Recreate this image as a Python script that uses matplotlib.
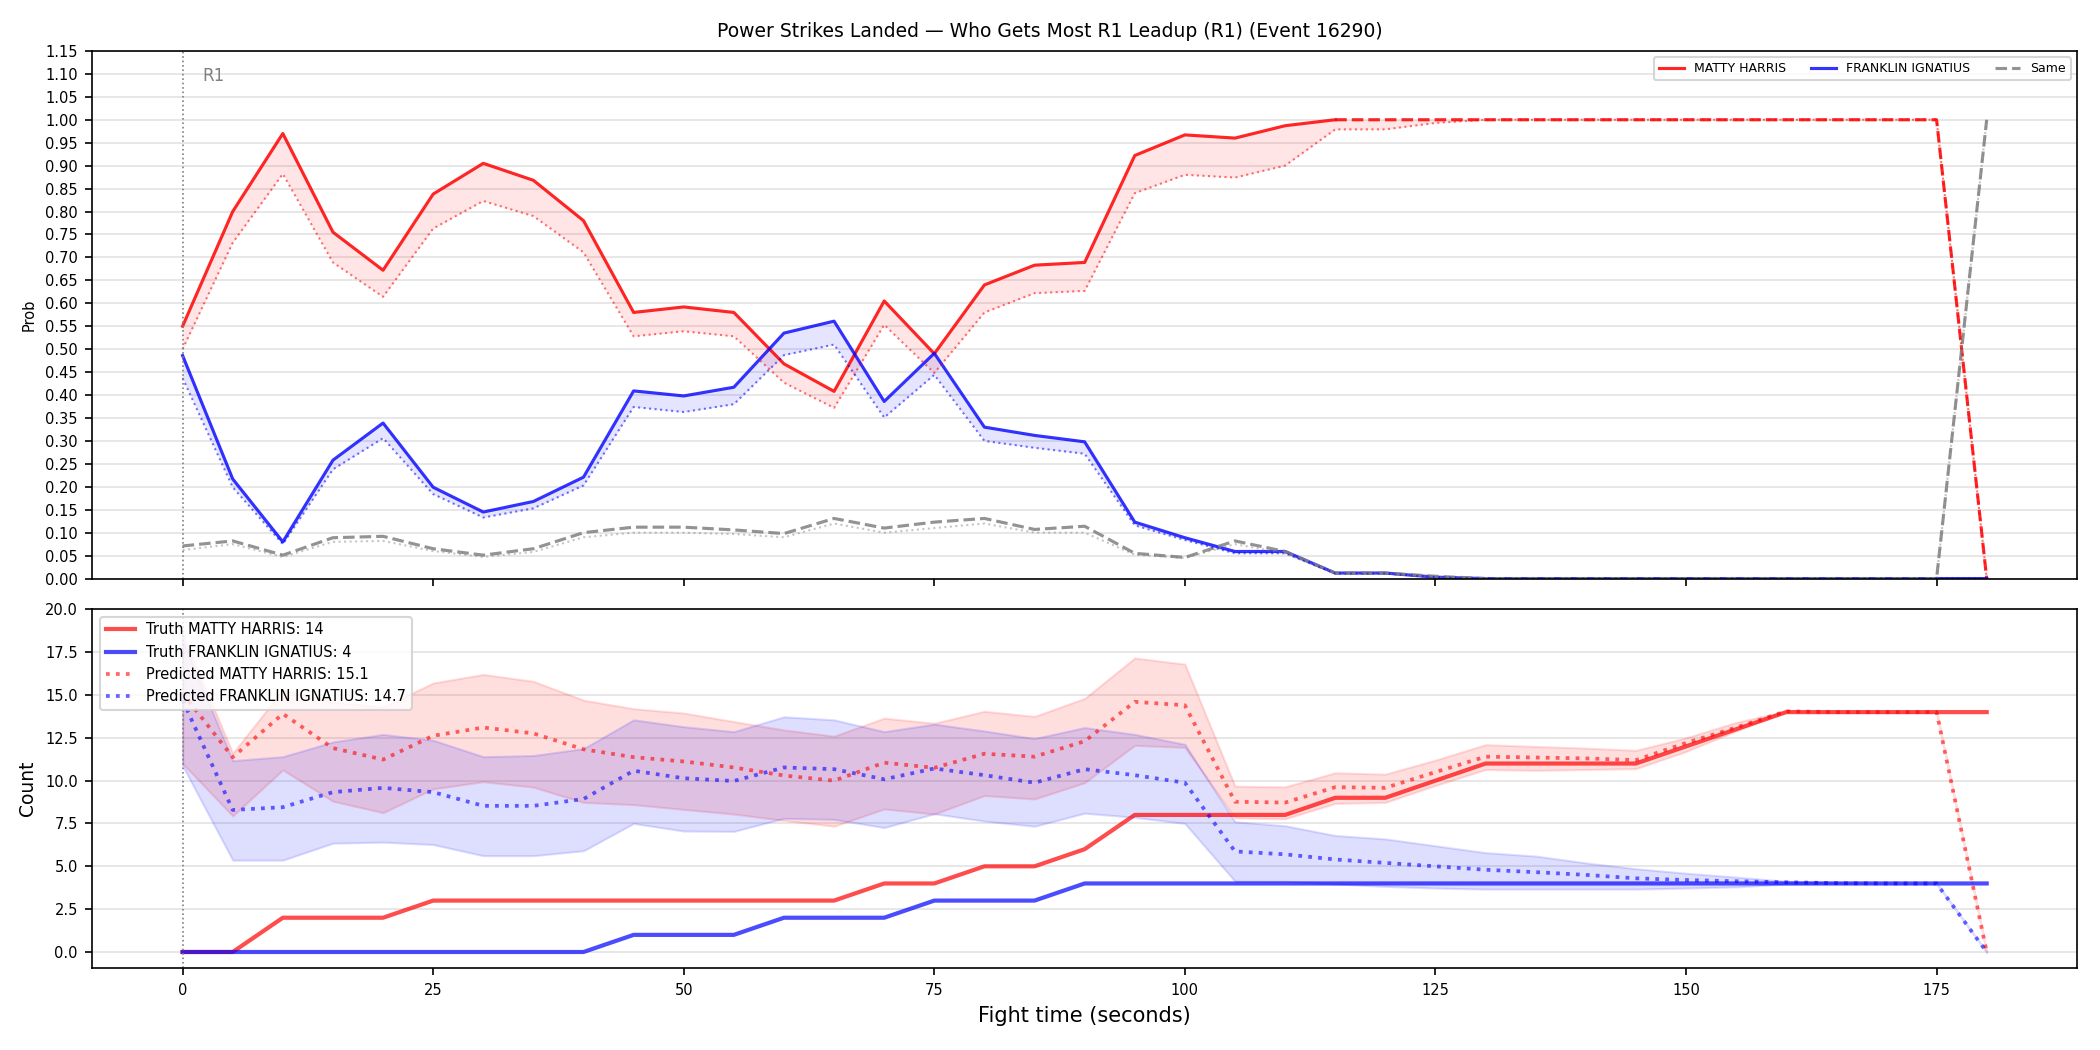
import numpy as np
import matplotlib
matplotlib.use("Agg")
import matplotlib.pyplot as plt

# fight time (seconds)
t = list(range(0, 185, 5))

# --- top panel: probability of who gets most strikes ---
p_matty = [0.55, 0.80, 0.97, 0.755, 0.672, 0.838, 0.905, 0.868, 0.78, 0.58,
           0.592, 0.58, 0.468, 0.408, 0.605, 0.49, 0.64, 0.683, 0.689, 0.922,
           0.967, 0.96, 0.987, 1.0, 1.0, 1.0, 1.0, 1.0, 1.0, 1.0,
           1.0, 1.0, 1.0, 1.0, 1.0, 1.0, 0.0]
p_franklin = [0.486, 0.217, 0.08, 0.258, 0.339, 0.199, 0.145, 0.168, 0.221, 0.409,
              0.398, 0.417, 0.535, 0.561, 0.386, 0.491, 0.33, 0.312, 0.298, 0.123,
              0.089, 0.059, 0.059, 0.012, 0.012, 0.003, 0.0, 0.0, 0.0, 0.0,
              0.0, 0.0, 0.0, 0.0, 0.0, 0.0, 0.0]
p_same = [0.071, 0.082, 0.051, 0.089, 0.092, 0.065, 0.051, 0.065, 0.10, 0.112,
          0.112, 0.106, 0.098, 0.131, 0.11, 0.123, 0.131, 0.107, 0.114, 0.055,
          0.046, 0.082, 0.059, 0.012, 0.012, 0.005, 0.0, 0.0, 0.0, 0.0,
          0.0, 0.0, 0.0, 0.0, 0.0, 0.0, 1.0]
pred_matty = [0.50, 0.732, 0.882, 0.689, 0.614, 0.763, 0.823, 0.79, 0.711, 0.528,
              0.539, 0.528, 0.427, 0.372, 0.553, 0.448, 0.58, 0.622, 0.627, 0.84,
              0.88, 0.874, 0.90, 0.979, 0.979, 0.993, 1.0, 1.0, 1.0, 1.0,
              1.0, 1.0, 1.0, 1.0, 1.0, 1.0, 0.0]
pred_franklin = [0.437, 0.199, 0.075, 0.238, 0.306, 0.184, 0.133, 0.153, 0.203, 0.374,
                 0.363, 0.38, 0.487, 0.51, 0.351, 0.444, 0.30, 0.285, 0.272, 0.116,
                 0.084, 0.055, 0.055, 0.011, 0.011, 0.003, 0.0, 0.0, 0.0, 0.0,
                 0.0, 0.0, 0.0, 0.0, 0.0, 0.0, 0.0]
pred_same = [0.062, 0.075, 0.047, 0.08, 0.082, 0.06, 0.047, 0.058, 0.09, 0.10,
             0.10, 0.097, 0.09, 0.12, 0.10, 0.11, 0.12, 0.10, 0.10, 0.052,
             0.045, 0.075, 0.055, 0.011, 0.011, 0.004, 0.0, 0.0, 0.0, 0.0,
             0.0, 0.0, 0.0, 0.0, 0.0, 0.0, 1.0]

# --- bottom panel: strike counts ---
truth_matty = [0, 0, 2, 2, 2, 3, 3, 3, 3, 3, 3, 3, 3, 3, 4, 4, 5, 5, 6, 8,
               8, 8, 8, 9, 9, 10, 11, 11, 11, 11, 12, 13, 14, 14, 14, 14, 14]
truth_franklin = [0, 0, 0, 0, 0, 0, 0, 0, 0, 1, 1, 1, 2, 2, 2, 3, 3, 3, 4, 4,
                  4, 4, 4, 4, 4, 4, 4, 4, 4, 4, 4, 4, 4, 4, 4, 4, 4]
cnt_matty = [15.1, 11.37, 13.9, 11.9, 11.23, 12.62, 13.1, 12.76, 11.83, 11.37,
             11.12, 10.77, 10.3, 10.0, 11.05, 10.75, 11.57, 11.4, 12.3, 14.6,
             14.4, 8.77, 8.72, 9.62, 9.58, 10.5, 11.4, 11.35, 11.3, 11.2,
             12.2, 13.1, 14.05, 14.0, 14.0, 14.0, 0.0]
cnt_matty_lo = [11.0, 7.94, 10.63, 8.8, 8.13, 9.52, 9.94, 9.62, 8.73, 8.6,
                8.32, 8.05, 7.68, 7.34, 8.35, 8.05, 9.13, 8.93, 9.88, 12.06,
                11.94, 7.83, 7.77, 8.67, 8.73, 9.72, 10.65, 10.6, 10.65, 10.7,
                11.7, 12.9, 14.05, 14.0, 14.0, 14.0, 0.0]
cnt_matty_hi = [18.6, 11.6, 15.3, 14.6, 14.3, 15.7, 16.2, 15.8, 14.7, 14.2,
                13.95, 13.45, 12.96, 12.6, 13.65, 13.35, 14.05, 13.75, 14.8, 17.16,
                16.8, 9.68, 9.64, 10.46, 10.38, 11.2, 12.1, 12.0, 11.9, 11.77,
                12.5, 13.4, 14.05, 14.0, 14.0, 14.0, 0.0]
cnt_franklin = [14.7, 8.29, 8.45, 9.33, 9.58, 9.33, 8.53, 8.53, 8.93, 10.58,
                10.14, 9.98, 10.77, 10.67, 10.08, 10.71, 10.32, 9.88, 10.67, 10.32,
                9.88, 5.87, 5.7, 5.4, 5.2, 5.0, 4.8, 4.66, 4.5, 4.3,
                4.2, 4.13, 4.07, 4.02, 4.0, 4.0, 0.0]
cnt_franklin_lo = [10.87, 5.36, 5.36, 6.35, 6.41, 6.27, 5.62, 5.62, 5.91, 7.5,
                   7.06, 7.04, 7.8, 7.74, 7.26, 8.07, 7.64, 7.34, 8.1, 7.86,
                   7.5, 4.13, 4.12, 3.97, 3.83, 3.73, 3.67, 3.67, 3.67, 3.67,
                   3.73, 3.8, 3.97, 4.0, 4.0, 4.0, 0.0]
cnt_franklin_hi = [18.2, 11.17, 11.4, 12.26, 12.7, 12.36, 11.4, 11.47, 11.87, 13.55,
                   13.15, 12.86, 13.73, 13.55, 12.86, 13.3, 12.9, 12.46, 13.1, 12.7,
                   12.12, 7.6, 7.37, 6.8, 6.6, 6.2, 5.8, 5.6, 5.2, 4.86,
                   4.6, 4.37, 4.13, 4.05, 4.0, 4.0, 0.0]

name_a = "MATTY HARRIS"
name_b = "FRANKLIN IGNATIUS"
title = "Power Strikes Landed \u2014 Who Gets Most R1 Leadup (R1) (Event 16290)"

t = np.array(t)
split = t.tolist().index(115)  # red prob line switches to dashed here

fig = plt.figure(figsize=(14, 7), dpi=150)
ax1 = fig.add_axes([0.044, 0.449, 0.945, 0.5025])
ax2 = fig.add_axes([0.044, 0.078, 0.945, 0.3417], sharex=ax1)

# top: probabilities
ax1.fill_between(t, p_matty, pred_matty, color="red", alpha=0.1, lw=0)
ax1.fill_between(t, p_franklin, pred_franklin, color="blue", alpha=0.1, lw=0)
ax1.plot(t[:split + 1], p_matty[:split + 1], color="red", lw=1.5, alpha=0.85, label=name_a)
ax1.plot(t[split:], p_matty[split:], color="red", lw=1.5, alpha=0.85, ls="--")
ax1.plot(t, p_franklin, color="blue", lw=1.5, alpha=0.8, label=name_b)
ax1.plot(t, p_same, color="gray", lw=1.5, alpha=0.85, ls="--", label="Same")
ax1.plot(t, pred_matty, color="red", lw=1, alpha=0.55, ls=":")
ax1.plot(t, pred_franklin, color="blue", lw=1, alpha=0.55, ls=":")
ax1.plot(t, pred_same, color="gray", lw=1, alpha=0.45, ls=":")
ax1.axvline(0, color="gray", lw=0.8, ls=":")
ax1.text(2, 1.095, "R1", color="gray", fontsize=8, va="center")
ax1.set_ylim(0, 1.15)
ax1.set_yticks(np.arange(0, 1.151, 0.05))
ax1.set_ylabel("Prob", fontsize=7)
ax1.tick_params(labelsize=7)
ax1.tick_params(axis="x", labelbottom=False)
ax1.grid(axis="y", color="#e3e3e3", lw=0.8)
ax1.set_axisbelow(True)
ax1.legend(loc="upper right", ncol=3, fontsize=6)
fig.suptitle(title, fontsize=9, y=0.97, va="center")

# bottom: counts
ax2.fill_between(t, cnt_matty_lo, cnt_matty_hi, color="red", alpha=0.13)
ax2.fill_between(t, cnt_franklin_lo, cnt_franklin_hi, color="blue", alpha=0.13)
ax2.plot(t, truth_matty, color="red", lw=2, alpha=0.7,
         label="Truth {}: {}".format(name_a, truth_matty[-1]))
ax2.plot(t, truth_franklin, color="blue", lw=2, alpha=0.7,
         label="Truth {}: {}".format(name_b, truth_franklin[-1]))
ax2.plot(t, cnt_matty, color="red", lw=1.8, alpha=0.6, ls=":",
         label="Predicted {}: {}".format(name_a, cnt_matty[0]))
ax2.plot(t, cnt_franklin, color="blue", lw=1.8, alpha=0.6, ls=":",
         label="Predicted {}: {}".format(name_b, cnt_franklin[0]))
ax2.axvline(0, color="gray", lw=0.8, ls=":")
ax2.set_ylim(-0.94, 20)
ax2.set_ylabel("Count", fontsize=9)
ax2.set_xlabel("Fight time (seconds)", fontsize=10)
ax2.tick_params(labelsize=7)
ax2.grid(axis="y", color="#e3e3e3", lw=0.8)
ax2.set_axisbelow(True)
ax2.legend(loc="upper left", fontsize=7)

fig.savefig("out.png", dpi=150)
